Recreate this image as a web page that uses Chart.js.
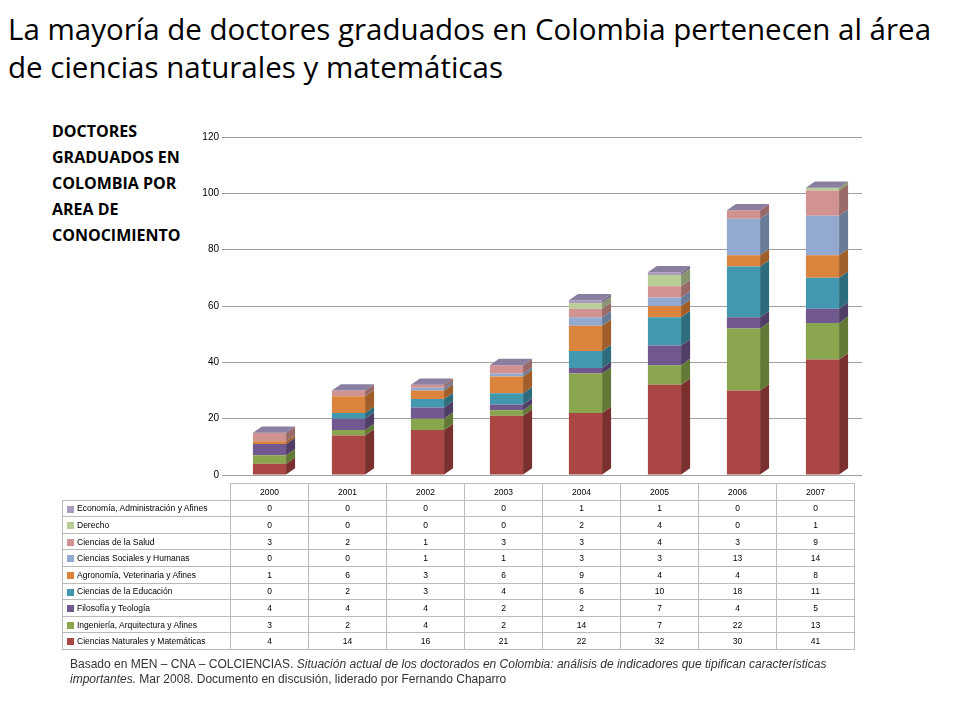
<!DOCTYPE html>
<html><head><meta charset="utf-8">
<script src="https://cdn.jsdelivr.net/npm/chart.js@4"></script>
<style>
body{margin:0;width:960px;height:720px;background:#fff;font-family:Calibri,"Liberation Sans",Arial,sans-serif;position:relative;overflow:hidden}
#title{position:absolute;left:8px;top:10px;font-size:29.5px;line-height:38px;color:#000;font-family:"Open Sans","Liberation Sans",sans-serif;white-space:nowrap}
#side{position:absolute;left:52px;top:118px;font-size:16px;font-weight:bold;line-height:26px;font-family:"Open Sans","Liberation Sans",sans-serif}
#wrap{position:absolute;left:180px;top:115px;width:700px;height:375px}
table{position:absolute;left:62px;top:483px;border-collapse:collapse;font-family:"Liberation Sans",Arial,sans-serif;font-size:8.5px}
td{border:1px solid #bbb;height:15.6px;padding:0;text-align:center;width:77px}
td.l{width:163px;text-align:left;padding-left:4px;white-space:nowrap}
td.e{border:none}
.sw{display:inline-block;width:7px;height:7px;margin-right:3px;vertical-align:middle}
#foot{position:absolute;left:70px;top:657px;font-size:12px;line-height:15px;color:#333;font-family:"Liberation Sans",Arial,sans-serif;width:760px}
</style></head><body>
<div id="title">La mayoría de doctores graduados en Colombia pertenecen al área<br>de ciencias naturales y matemáticas</div>
<div id="side">DOCTORES<br>GRADUADOS EN<br>COLOMBIA POR<br>AREA DE<br>CONOCIMIENTO</div>
<div id="wrap"><canvas id="c"></canvas></div>
<table id="t"></table>
<div id="foot">Basado en MEN – CNA – COLCIENCIAS. <i>Situación actual de los doctorados en Colombia: análisis de indicadores que tipifican características importantes.</i> Mar 2008. Documento en discusión, liderado por Fernando Chaparro</div>
<script>
const years=["2000","2001","2002","2003","2004","2005","2006","2007"];
const naturales=[4,14,16,21,22,32,30,41];
const ingenieria=[3,2,4,2,14,7,22,13];
const filosofia=[4,4,4,2,2,7,4,5];
const educacion=[0,2,3,4,6,10,18,11];
const agronomia=[1,6,3,6,9,4,4,8];
const sociales=[0,0,1,1,3,3,13,14];
const salud=[3,2,1,3,3,4,3,9];
const derecho=[0,0,0,0,2,4,0,1];
const economia=[0,0,0,0,1,1,0,0];
const yTicks=[0,20,40,60,80,100,120];
const series=[
 ["Ciencias Naturales y Matemáticas",naturales,"#AA4643","#7a302e"],
 ["Ingeniería, Arquitectura y Afines",ingenieria,"#89A54E","#627837"],
 ["Filosofía y Teología",filosofia,"#71588F","#503e66"],
 ["Ciencias de la Educación",educacion,"#4198AF","#2d6c7d"],
 ["Agronomía, Veterinaria y Afines",agronomia,"#DB843D","#a05f2a"],
 ["Ciencias Sociales y Humanas",sociales,"#93A9CF","#6a7b98"],
 ["Ciencias de la Salud",salud,"#D19392","#9a6a69"],
 ["Derecho",derecho,"#B9CD96","#879670"],
 ["Economía, Administración y Afines",economia,"#A99BBD","#7b708a"]
];
const t=document.getElementById('t');
let h='<tr><td class="l e"></td>'+years.map(y=>'<td>'+y+'</td>').join('')+'</tr>';
for(let i=series.length-1;i>=0;i--){const s=series[i];
 h+='<tr><td class="l"><span class="sw" style="background:'+s[2]+'"></span>'+s[0]+'</td>'+s[1].map(v=>'<td>'+v+'</td>').join('')+'</tr>';}
t.innerHTML=h;
const D=9;
const depth={id:'depth',afterDatasetsDraw(ch){const c=ch.ctx;
 const n=years.length;const metas=ch.data.datasets.map((d,i)=>ch.getDatasetMeta(i));
 for(let j=0;j<n;j++){let top=-1;
  metas.forEach((m,i)=>{const e=m.data[j];const v=ch.data.datasets[i].data[j];if(!v)return;top=i;
   const r=e.x+e.width/2;c.fillStyle=series[i][3];c.beginPath();
   c.moveTo(r,e.y);c.lineTo(r+D,e.y-D*0.7);c.lineTo(r+D,e.base-D*0.7);c.lineTo(r,e.base);c.fill();});
  if(top>=0){const e=metas[top].data[j];const l=e.x-e.width/2,r=e.x+e.width/2;
   c.beginPath();c.moveTo(l,e.y);c.lineTo(l+D,e.y-D*0.7);c.lineTo(r+D,e.y-D*0.7);c.lineTo(r,e.y);
   c.fillStyle='#8a7fa0';c.fill();}
 }}};
new Chart(document.getElementById('c'),{type:'bar',
 data:{labels:years,datasets:series.map(s=>({label:s[0],data:s[1],backgroundColor:s[2],barPercentage:0.42,categoryPercentage:1}))},
 options:{responsive:true,maintainAspectRatio:false,animation:false,
  layout:{padding:{top:22,right:18,bottom:15}},
  plugins:{legend:{display:false},tooltip:{enabled:false}},
  scales:{x:{stacked:true,display:false},
   y:{stacked:true,min:0,max:120,afterFit(s){s.width=50;},afterBuildTicks(s){s.ticks=yTicks.map(v=>({value:v}));},
    grid:{color:'#a0a0a0'},border:{display:false},ticks:{font:{size:10,family:'Liberation Sans'},color:'#000'}}}},
 plugins:[depth]});
</script></body></html>
